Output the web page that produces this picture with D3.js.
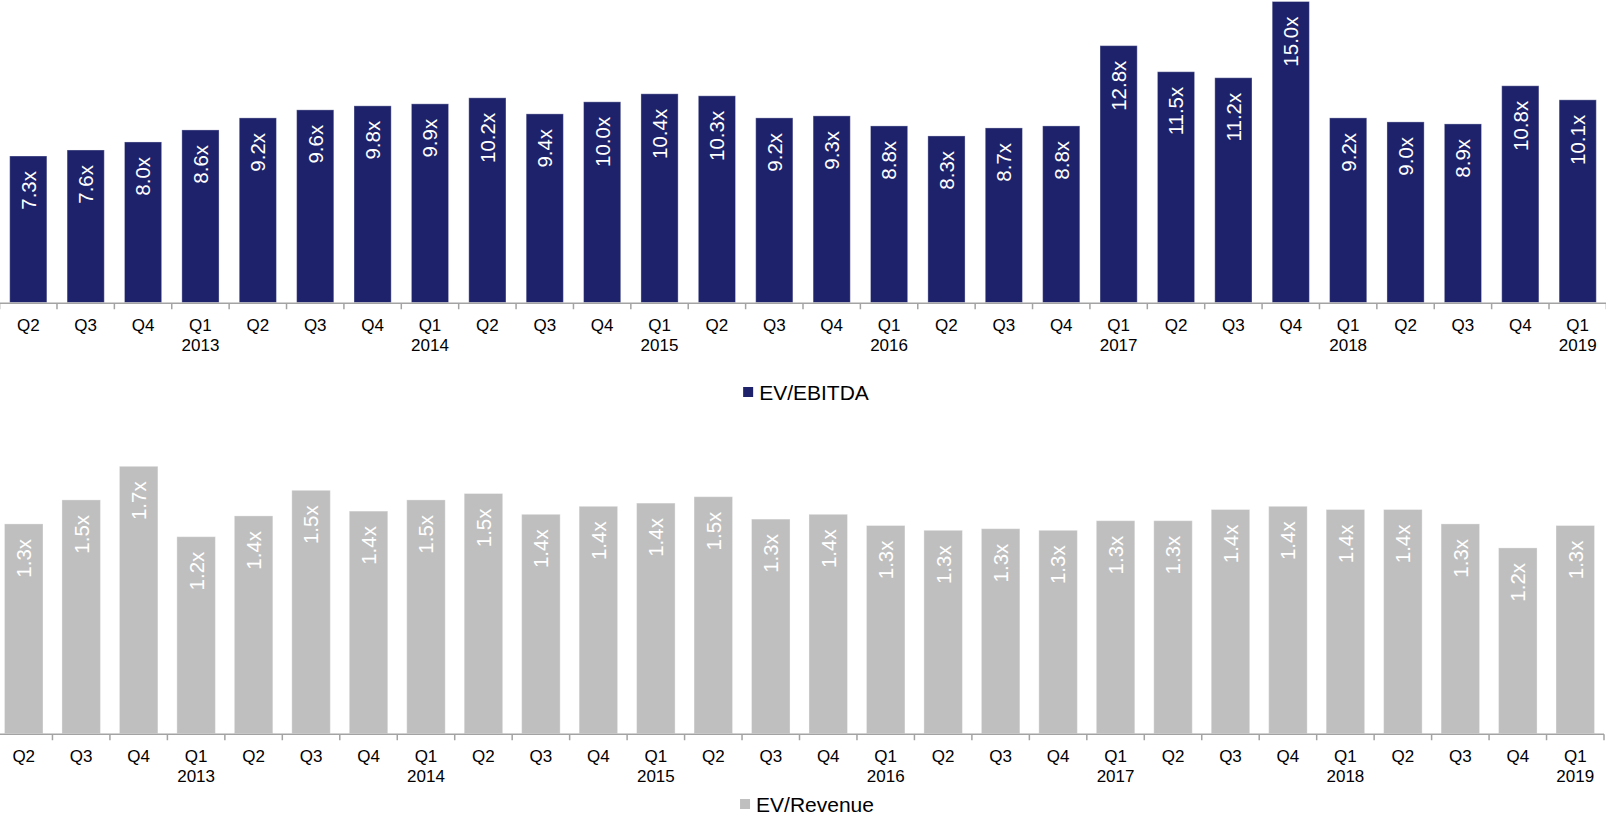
<!DOCTYPE html>
<html>
<head>
<meta charset="utf-8">
<script src="https://cdnjs.cloudflare.com/ajax/libs/d3/7.8.5/d3.min.js"></script>
<style>
  body { margin: 0; background: #fff; }
  svg { display: block; font-family: "Liberation Sans", Arial, sans-serif; }
</style>
</head>
<body>
<div id="chart"></div>
<script>
/* global d3 */

// quarter categories, Q2 2012 .. Q1 2019
var quarters = ['Q2', 'Q3', 'Q4',
  'Q1', 'Q2', 'Q3', 'Q4',
  'Q1', 'Q2', 'Q3', 'Q4',
  'Q1', 'Q2', 'Q3', 'Q4',
  'Q1', 'Q2', 'Q3', 'Q4',
  'Q1', 'Q2', 'Q3', 'Q4',
  'Q1', 'Q2', 'Q3', 'Q4',
  'Q1'];
var years = ['', '', '',
  '2013', '', '', '',
  '2014', '', '', '',
  '2015', '', '', '',
  '2016', '', '', '',
  '2017', '', '', '',
  '2018', '', '', '',
  '2019'];

var evEbitda = [7.3, 7.6, 8.0, 8.6, 9.2, 9.6, 9.8, 9.9, 10.2, 9.4, 10.0, 10.4, 10.3, 9.2,
  9.3, 8.8, 8.3, 8.7, 8.8, 12.8, 11.5, 11.2, 15.0, 9.2, 9.0, 8.9, 10.8, 10.1];
var evRevenue = [1.31, 1.46, 1.67, 1.23, 1.36, 1.52, 1.39, 1.46, 1.50, 1.37, 1.42, 1.44, 1.48, 1.34,
  1.37, 1.30, 1.27, 1.28, 1.27, 1.33, 1.33, 1.40, 1.42, 1.40, 1.40, 1.31, 1.16, 1.30];

var W = 1606;
var H = 815;

var svg = d3.select('#chart').append('svg')
  .attr('width', W)
  .attr('height', H);

function drawPanel(cfg) {
  var idx = d3.range(cfg.values.length);

  var x = d3.scaleBand()
    .domain(idx)
    .range(cfg.xRange)
    .paddingInner(cfg.pad)
    .paddingOuter(cfg.pad / 2);

  var y = d3.scaleLinear()
    .domain(cfg.yDomain)
    .range(cfg.yRange);

  var g = svg.append('g');

  g.selectAll('rect.bar').data(cfg.values).enter()
    .append('rect')
    .attr('class', 'bar')
    .attr('x', function(d, i) { return x(i); })
    .attr('y', function(d) { return y(d); })
    .attr('width', x.bandwidth())
    .attr('height', function(d) { return y(0) - y(d); })
    .style('fill', cfg.color)
    .style('stroke', cfg.edge)
    .style('stroke-width', 1);

  // value labels, rotated, just under the top of each bar
  g.selectAll('text.val').data(cfg.values).enter()
    .append('text')
    .attr('class', 'val')
    .attr('transform', function(d, i) {
      var cx = x(i) + x.bandwidth() / 2;
      return 'translate(' + cx + ',' + (y(d) + 15) + ') rotate(-90)';
    })
    .attr('dy', '0.36em')
    .style('text-anchor', 'end')
    .style('font-size', '20.5px')
    .style('fill', cfg.labelColor)
    .text(function(d) { return d.toFixed(1) + 'x'; });

  // axis line with boundary ticks
  var base = y(0) + 0.75;
  var x0 = x.range()[0];
  var step = x.step();
  g.append('line')
    .attr('x1', cfg.xRange[0]).attr('x2', cfg.xRange[1])
    .attr('y1', base).attr('y2', base)
    .style('stroke', '#a3a3a3')
    .style('stroke-width', 1.5);
  g.selectAll('line.tick').data(d3.range(cfg.values.length + 1)).enter()
    .append('line')
    .attr('class', 'tick')
    .attr('x1', function(i) { return x0 + i * step; })
    .attr('x2', function(i) { return x0 + i * step; })
    .attr('y1', base)
    .attr('y2', base + 6)
    .style('stroke', '#a3a3a3')
    .style('stroke-width', 1.5);

  var lab = g.selectAll('text.cat').data(idx).enter()
    .append('text')
    .attr('class', 'cat')
    .attr('x', function(i) { return x(i) + x.bandwidth() / 2; })
    .attr('y', base + 27.5)
    .style('text-anchor', 'middle')
    .style('font-size', '17px')
    .style('fill', '#000');
  lab.append('tspan')
    .text(function(i) { return quarters[i]; });
  lab.append('tspan')
    .attr('x', function(i) { return x(i) + x.bandwidth() / 2; })
    .attr('dy', 20.5)
    .text(function(i) { return years[i]; });

  // legend
  var lg = g.append('g');
  lg.append('rect')
    .attr('x', 0).attr('y', -5)
    .attr('width', 10).attr('height', 10)
    .style('fill', cfg.color);
  var lt = lg.append('text')
    .attr('x', 16)
    .attr('y', 7.5)
    .style('font-size', '21px')
    .style('fill', '#000')
    .text(cfg.legend);
  var lw = 16 + lt.node().getComputedTextLength();
  lg.attr('transform', 'translate(' + (cfg.legendX - lw / 2) + ',' + cfg.legendY + ')');
}

drawPanel({
  values: evEbitda,
  color: '#1d226a',
  edge: 'rgba(255,255,255,0.35)',
  labelColor: '#ffffff',
  xRange: [-0.4, 1606.4],
  pad: 0.352,
  yDomain: [0, 15],
  yRange: [302.5, 1.5],
  legend: 'EV/EBITDA',
  legendX: 806,
  legendY: 392
});

drawPanel({
  values: evRevenue,
  color: '#bfbfbf',
  edge: 'rgba(255,255,255,0.35)',
  labelColor: '#ffffff',
  xRange: [-5, 1604],
  pad: 0.33,
  yDomain: [0, 1.8],
  yRange: [733.5, 445.5],
  legend: 'EV/Revenue',
  legendX: 807,
  legendY: 804
});
</script>
</body>
</html>
